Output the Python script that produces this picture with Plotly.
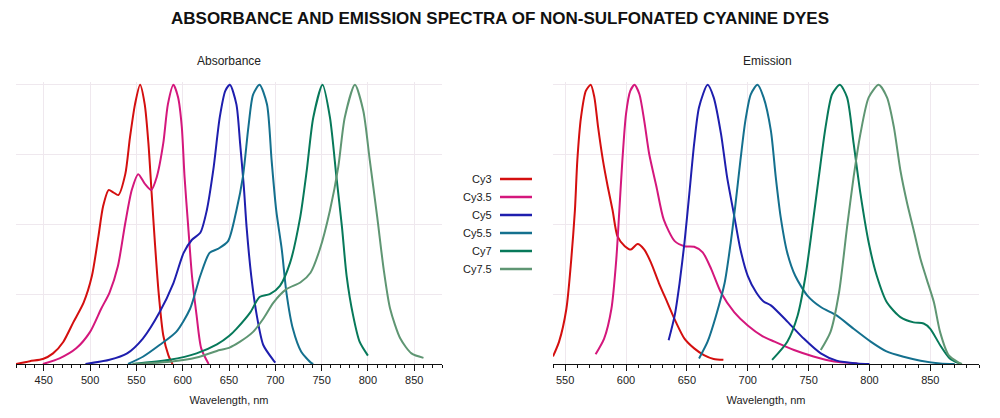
import plotly.graph_objects as go

W, H = 1000, 418

dye_names = ["Cy3", "Cy3.5", "Cy5", "Cy5.5", "Cy7", "Cy7.5"]
dye_colors = ["#d40f0f", "#d4177c", "#1e1eae", "#14708e", "#07795a", "#5f9673"]

# ---- Absorbance (normalized) ----
abs_cy3_nm = [420, 435, 449, 460, 471, 482, 493, 502, 509, 514, 520, 525, 530.5, 538, 543, 548.5, 554, 559, 563, 566.5, 570, 574, 579, 584.5, 589]
abs_cy3_val = [0, 0.01, 0.018, 0.038, 0.079, 0.15, 0.22, 0.316, 0.457, 0.564, 0.623, 0.615, 0.605, 0.68, 0.81, 0.93, 1.0, 0.93, 0.79, 0.61, 0.434, 0.256, 0.103, 0.032, 0]

abs_cy35_nm = [449, 467, 485, 500, 512, 521, 530, 538, 545, 552, 559, 566, 572, 579, 584, 590, 595, 599, 602, 606, 610, 615, 620, 628]
abs_cy35_val = [0, 0.02, 0.056, 0.115, 0.198, 0.256, 0.35, 0.505, 0.623, 0.68, 0.646, 0.623, 0.67, 0.79, 0.93, 1.0, 0.955, 0.85, 0.67, 0.49, 0.316, 0.174, 0.056, 0]

abs_cy5_nm = [495, 521, 540, 557, 575, 590, 601, 610, 619, 626, 633, 640, 646, 651, 658, 662, 666, 669, 674, 680, 687, 698, 700]
abs_cy5_val = [0, 0.015, 0.038, 0.091, 0.185, 0.29, 0.398, 0.445, 0.47, 0.55, 0.694, 0.883, 0.978, 1.0, 0.93, 0.79, 0.635, 0.49, 0.316, 0.174, 0.068, 0.013, 0.005]

abs_cy55_nm = [541, 557, 575, 593, 608, 619, 629, 638, 649, 658, 665, 671, 676, 683, 691, 696, 701, 707, 712, 719, 728, 739, 741]
abs_cy55_val = [0, 0.026, 0.068, 0.115, 0.198, 0.316, 0.398, 0.412, 0.44, 0.55, 0.67, 0.85, 0.965, 1.0, 0.93, 0.73, 0.55, 0.41, 0.256, 0.126, 0.044, 0.003, 0]

abs_cy7_nm = [546, 586, 615, 637, 650, 658, 673, 683, 694, 705, 716, 727, 734, 741, 751, 759, 766, 772, 777, 784, 791, 800]
abs_cy7_val = [0, 0.015, 0.038, 0.07, 0.1, 0.126, 0.185, 0.24, 0.25, 0.28, 0.363, 0.528, 0.694, 0.883, 1.0, 0.883, 0.67, 0.49, 0.316, 0.174, 0.08, 0.03]

abs_cy75_nm = [546, 586, 615, 640, 650, 662, 676, 687, 698, 712, 727, 738, 748, 759, 768, 775, 786, 795, 802, 810, 817, 824, 835, 847, 860]
abs_cy75_val = [0, 0.008, 0.023, 0.05, 0.058, 0.08, 0.115, 0.162, 0.22, 0.268, 0.292, 0.327, 0.41, 0.55, 0.706, 0.883, 1.0, 0.907, 0.73, 0.528, 0.34, 0.198, 0.091, 0.038, 0.022]

# ---- Emission (normalized) ----
em_cy3_nm = [540, 545, 551, 555, 558, 560, 563, 567, 571, 574, 577, 581, 585, 589, 593, 599, 604, 609.5, 615, 620.5, 627, 634, 641, 648, 656, 664, 672, 680]
em_cy3_val = [0.027, 0.08, 0.198, 0.375, 0.55, 0.73, 0.883, 0.978, 1.0, 0.955, 0.85, 0.73, 0.635, 0.55, 0.457, 0.422, 0.41, 0.43, 0.41, 0.363, 0.29, 0.22, 0.15, 0.091, 0.056, 0.032, 0.018, 0.015]

em_cy35_nm = [575, 582, 588, 592, 594.5, 597, 600, 603.5, 607, 611, 615, 619, 625, 631, 640, 648, 656, 663, 670, 678, 689, 700, 712, 722, 738, 754, 771, 790]
em_cy35_val = [0.035, 0.091, 0.198, 0.375, 0.55, 0.73, 0.896, 0.978, 1.0, 0.966, 0.87, 0.753, 0.635, 0.517, 0.44, 0.422, 0.42, 0.4, 0.34, 0.256, 0.185, 0.138, 0.1, 0.08, 0.05, 0.027, 0.009, 0.002]

em_cy5_nm = [635, 640, 644, 648, 652, 656, 660, 667, 672, 678, 683, 689, 694, 700, 707, 713, 719, 733, 746, 760, 773, 790, 800]
em_cy5_val = [0.085, 0.174, 0.29, 0.434, 0.61, 0.79, 0.92, 1.0, 0.955, 0.825, 0.67, 0.528, 0.41, 0.316, 0.256, 0.224, 0.21, 0.15, 0.091, 0.038, 0.012, 0.002, 0]

em_cy55_nm = [660, 667, 674, 681, 686, 690, 694, 698, 702.5, 708, 713, 719, 723, 727, 732.5, 739, 749, 760, 773, 787, 801, 814, 828, 842, 858, 870]
em_cy55_val = [0.02, 0.08, 0.174, 0.29, 0.434, 0.575, 0.73, 0.87, 0.966, 1.0, 0.955, 0.836, 0.67, 0.528, 0.398, 0.316, 0.245, 0.204, 0.174, 0.126, 0.08, 0.045, 0.026, 0.012, 0.002, 0]

em_cy7_nm = [720, 732.5, 741, 747.5, 753, 758.4, 764, 769.3, 775.7, 781.6, 787, 792.6, 799.4, 806, 814.4, 825.4, 836.3, 844.5, 850, 858, 866, 875]
em_cy7_val = [0.015, 0.08, 0.174, 0.316, 0.49, 0.67, 0.85, 0.966, 1.0, 0.955, 0.79, 0.61, 0.434, 0.316, 0.22, 0.168, 0.149, 0.145, 0.126, 0.068, 0.02, 0]

em_cy75_nm = [760, 768, 775, 781.6, 787, 792.6, 799.4, 807.6, 814.4, 820, 825.4, 831, 836.3, 842, 847, 853, 858, 865, 873, 876]
em_cy75_val = [0.05, 0.115, 0.256, 0.49, 0.67, 0.825, 0.955, 1.0, 0.955, 0.85, 0.694, 0.575, 0.48, 0.375, 0.304, 0.22, 0.115, 0.032, 0.006, 0]

abs_series = [(abs_cy3_nm, abs_cy3_val), (abs_cy35_nm, abs_cy35_val), (abs_cy5_nm, abs_cy5_val),
              (abs_cy55_nm, abs_cy55_val), (abs_cy7_nm, abs_cy7_val), (abs_cy75_nm, abs_cy75_val)]
em_series = [(em_cy3_nm, em_cy3_val), (em_cy35_nm, em_cy35_val), (em_cy5_nm, em_cy5_val),
             (em_cy55_nm, em_cy55_val), (em_cy7_nm, em_cy7_val), (em_cy75_nm, em_cy75_val)]

title_text = "ABSORBANCE AND EMISSION SPECTRA OF NON-SULFONATED CYANINE DYES"
panel_titles = ["Absorbance", "Emission"]
x_title = "Wavelength, nm"

FONT = "Liberation Sans, Arial, Helvetica, sans-serif"
GRID = "#efe8ee"

fig = go.Figure()
for i, name in enumerate(dye_names):
    x, y = abs_series[i]
    fig.add_trace(go.Scatter(x=x, y=y, mode="lines", name=name, xaxis="x", yaxis="y",
                             line=dict(color=dye_colors[i], width=2, shape="spline", smoothing=0.7),
                             showlegend=False))
for i, name in enumerate(dye_names):
    x, y = em_series[i]
    fig.add_trace(go.Scatter(x=x, y=y, mode="lines", name=name, xaxis="x2", yaxis="y2",
                             line=dict(color=dye_colors[i], width=2, shape="spline", smoothing=0.7),
                             showlegend=False))

def xaxis_cfg(domain, rng, anchor):
    return dict(domain=domain, range=rng, anchor=anchor, dtick=50, tick0=0, automargin=False,
                showline=True, linecolor="#111", linewidth=1.2,
                ticks="outside", ticklen=6, tickwidth=1, tickcolor="#111",
                minor=dict(ticks="outside", ticklen=3, tickwidth=1, tickcolor="#111", dtick=10, tick0=0, showgrid=False),
                showgrid=True, gridcolor=GRID, gridwidth=1, zeroline=False,
                tickfont=dict(family=FONT, size=11, color="#222"),
                title=dict(text=x_title, font=dict(family=FONT, size=11, color="#222"), standoff=11),
                fixedrange=True)

def yaxis_cfg(domain, anchor):
    return dict(domain=domain, range=[0, 1.01], anchor=anchor, dtick=0.25, tick0=0, automargin=False,
                showticklabels=False, showline=False, ticks="",
                showgrid=True, gridcolor=GRID, gridwidth=1, zeroline=False, fixedrange=True)

ydom = [1 - 364 / H, 1 - 82 / H]
fig.update_layout(
    width=W, height=H,
    margin=dict(l=0, r=0, t=0, b=0, autoexpand=False),
    paper_bgcolor="white", plot_bgcolor="white",
    xaxis=xaxis_cfg([16 / W, 442 / W], [420, 880], "y"),
    yaxis=yaxis_cfg(ydom, "x"),
    xaxis2=xaxis_cfg([553 / W, 979 / W], [540, 890], "y2"),
    yaxis2=yaxis_cfg(ydom, "x2"),
    showlegend=False,
)

annotations = [
    dict(text="<b>" + title_text + "</b>", x=0.5, y=1 - 18 / H, xref="paper", yref="paper",
         xanchor="center", yanchor="middle", showarrow=False,
         font=dict(family=FONT, size=17, color="#111")),
    dict(text=panel_titles[0], x=229 / W, y=1 - 61 / H, xref="paper", yref="paper",
         xanchor="center", yanchor="middle", showarrow=False,
         font=dict(family=FONT, size=12, color="#222")),
    dict(text=panel_titles[1], x=767 / W, y=1 - 61 / H, xref="paper", yref="paper",
         xanchor="center", yanchor="middle", showarrow=False,
         font=dict(family=FONT, size=12, color="#222")),
]
shapes = []
leg_y0, leg_dy = 179, 18
for i, name in enumerate(dye_names):
    yy = 1 - (leg_y0 + i * leg_dy) / H
    annotations.append(dict(text=name, x=494 / W, y=yy, xref="paper", yref="paper",
                            xanchor="right", yanchor="middle", showarrow=False,
                            font=dict(family=FONT, size=11, color="#222")))
    shapes.append(dict(type="line", xref="paper", yref="paper", x0=500 / W, x1=532 / W,
                       y0=yy, y1=yy, line=dict(color=dye_colors[i], width=2.5)))
fig.update_layout(annotations=annotations, shapes=shapes)

fig.write_html("out.html", config={"displayModeBar": False},
               post_script="document.body.style.margin='0';document.body.style.overflow='hidden';")
